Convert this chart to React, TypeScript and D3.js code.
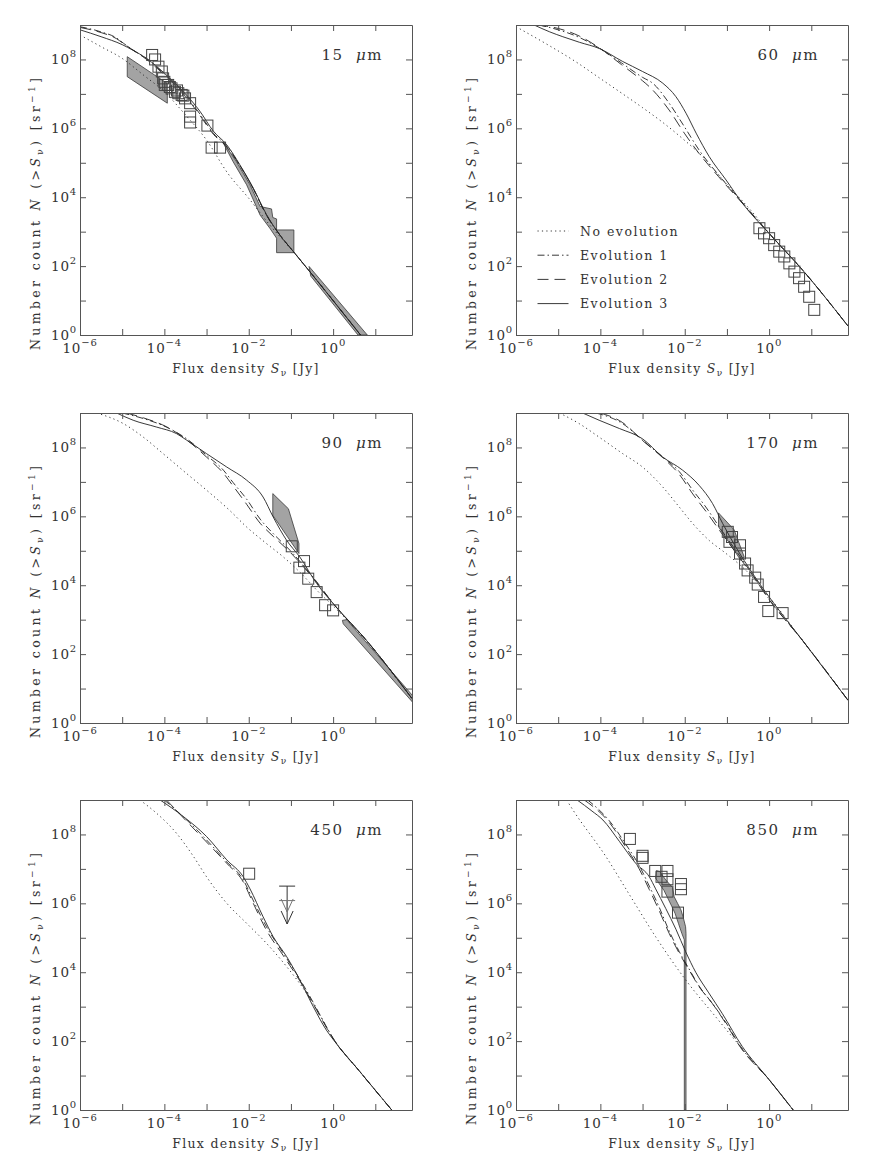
import React, { useEffect, useRef } from 'react'
import * as d3 from 'd3'

// every point is [log10 S_nu (Jy), log10 N(>S_nu) (sr^-1)]
type P = [number, number]

// ---------- 15 um
const noEvo15: P[] = [[-6, 8.71], [-5.5, 8.37], [-5, 8.03], [-4.5, 7.55], [-4, 7.06], [-3.5, 6.39], [-3, 5.66], [-2.5, 4.7], [-2, 3.97], [-1.5, 3.19], [-1, 2.5], [-0.5, 1.76], [0, 1.0], [0.65, 0]]
const evo1_15: P[] = [[-6, 8.95], [-5.5, 8.8], [-5.13, 8.62], [-4.97, 8.47], [-4.74, 8.27], [-4.42, 8.02], [-4, 7.58], [-3.5, 6.97], [-3.16, 6.42], [-2.84, 5.86], [-2.52, 5.48], [-2.21, 4.92], [-1.89, 4.24], [-1.58, 3.48], [-1.26, 2.9], [-0.94, 2.42], [-0.5, 1.76], [0, 1.0], [0.65, 0]]
const evo2_15: P[] = [[-6, 8.93], [-5.5, 8.78], [-5.13, 8.6], [-4.97, 8.46], [-4.74, 8.27], [-4.42, 8.0], [-4, 7.55], [-3.5, 6.93], [-3.16, 6.38], [-2.84, 5.83], [-2.52, 5.46], [-2.21, 4.92], [-1.89, 4.24], [-1.58, 3.48], [-1.26, 2.9], [-0.94, 2.42], [-0.5, 1.76], [0, 1.0], [0.65, 0]]
const evo3_15: P[] = [[-6, 8.86], [-5.5, 8.66], [-5, 8.43], [-4.75, 8.27], [-4.42, 8.03], [-4, 7.6], [-3.5, 7.0], [-3.16, 6.5], [-2.84, 5.92], [-2.52, 5.52], [-2.21, 4.94], [-1.89, 4.26], [-1.58, 3.5], [-1.26, 2.9], [-0.94, 2.42], [-0.5, 1.76], [0, 1.0], [0.65, 0]]
const sq15: P[] = [[-4.29, 8.13], [-4.22, 8.0], [-4.14, 7.79], [-4.06, 7.65], [-4.03, 7.45], [-4.0, 7.35], [-3.99, 7.26], [-3.91, 7.26], [-3.87, 7.2], [-3.83, 7.16], [-3.75, 7.06], [-3.7, 7.1], [-3.67, 7.02], [-3.59, 6.97], [-3.55, 6.95], [-3.51, 6.87], [-3.39, 6.73], [-3.39, 6.34], [-3.39, 6.17], [-2.98, 6.08], [-2.88, 5.44], [-2.68, 5.44]]
const shadeA15: P[] = [[-4.88, 8.08], [-3.93, 7.3], [-3.93, 6.73], [-4.88, 7.5]]
const shadeB15: P[] = [[-2.6, 5.59], [-2.29, 5.03], [-1.97, 4.36], [-1.73, 3.73], [-1.46, 3.66], [-1.43, 3.41], [-1.34, 3.37], [-1.34, 3.05], [-0.93, 3.05], [-0.93, 2.39], [-1.34, 2.39], [-1.34, 2.81], [-1.5, 3.1], [-1.73, 3.48], [-2.05, 4.36], [-2.37, 5.03], [-2.59, 5.54]]
const shadeC15: P[] = [[-0.57, 1.99], [0.81, 0], [0.59, 0], [-0.53, 1.71]]

// ---------- 60 um
const noEvo60: P[] = [[-6, 8.95], [-5.21, 8.4], [-4.58, 7.93], [-4.03, 7.47], [-3.47, 7.0], [-3.0, 6.6], [-2.52, 6.17], [-2.05, 5.7], [-1.58, 5.18], [-1.18, 4.62], [-0.79, 4.1], [-0.31, 3.44], [0, 2.95], [0.79, 1.89], [1.87, 0.26]]
const evo1_60: P[] = [[-5.45, 9.0], [-5.0, 8.86], [-4.5, 8.64], [-4.03, 8.33], [-3.5, 7.9], [-3.0, 7.48], [-2.76, 7.31], [-2.37, 6.73], [-2.01, 6.05], [-1.66, 5.37], [-1.2, 4.65], [-0.6, 3.8], [0, 2.95], [0.79, 1.89], [1.87, 0.26]]
const evo2_60: P[] = [[-5.5, 9.0], [-5.0, 8.9], [-4.5, 8.68], [-4.03, 8.34], [-3.5, 7.85], [-3.0, 7.38], [-2.84, 7.21], [-2.37, 6.53], [-2.01, 5.86], [-1.66, 5.27], [-1.2, 4.6], [-0.6, 3.78], [0, 2.95], [0.79, 1.89], [1.87, 0.26]]
const evo3_60: P[] = [[-5.57, 9.0], [-5.2, 8.8], [-4.89, 8.66], [-4.5, 8.5], [-4.03, 8.32], [-3.47, 7.94], [-3.0, 7.65], [-2.52, 7.31], [-2.21, 6.92], [-1.97, 6.44], [-1.73, 5.86], [-1.42, 5.18], [-1.02, 4.5], [-0.63, 3.82], [0, 2.95], [0.79, 1.89], [1.87, 0.26]]
const sq60: P[] = [[-0.23, 3.1], [-0.12, 2.95], [0.0, 2.81], [0.12, 2.61], [0.24, 2.42], [0.36, 2.28], [0.48, 2.08], [0.6, 1.84], [0.71, 1.65], [0.83, 1.4], [0.95, 1.11], [1.07, 0.73]]

// ---------- 90 um
const noEvo90: P[] = [[-5.6, 9.0], [-4.97, 8.69], [-4.5, 8.3], [-4.03, 7.82], [-3.47, 7.24], [-3.0, 6.76], [-2.45, 6.17], [-2.05, 5.69], [-1.58, 5.21], [-1.18, 4.82], [-0.79, 4.38], [-0.31, 3.76], [0, 3.4], [0.79, 2.38], [1.87, 0.71]]
const evo1_90: P[] = [[-5.0, 9.0], [-4.5, 8.84], [-3.95, 8.59], [-3.47, 8.25], [-3.0, 7.77], [-2.6, 7.34], [-2.37, 6.98], [-2.05, 6.5], [-1.73, 5.92], [-1.42, 5.5], [-1.02, 5.01], [-0.39, 4.1], [0, 3.47], [0.79, 2.4], [1.87, 0.71]]
const evo2_90: P[] = [[-4.9, 9.0], [-4.5, 8.86], [-3.95, 8.6], [-3.47, 8.22], [-3.0, 7.72], [-2.6, 7.25], [-2.37, 6.88], [-2.05, 6.35], [-1.73, 5.8], [-1.42, 5.42], [-1.02, 4.96], [-0.39, 4.08], [0, 3.47], [0.79, 2.4], [1.87, 0.71]]
const evo3_90: P[] = [[-5.13, 9.0], [-4.74, 8.79], [-4.18, 8.59], [-3.71, 8.4], [-3.47, 8.21], [-3.0, 7.82], [-2.52, 7.43], [-2.05, 7.05], [-1.66, 6.56], [-1.42, 5.98], [-1.1, 5.3], [-0.79, 4.82], [-0.39, 4.05], [0, 3.47], [0.79, 2.4], [1.87, 0.71]]
const sq90: P[] = [[-0.98, 5.13], [-0.69, 4.7], [-0.8, 4.51], [-0.59, 4.19], [-0.39, 3.8], [-0.19, 3.42], [0, 3.27]]
const shadeA90: P[] = [[-1.43, 6.66], [-1.06, 6.22], [-0.81, 5.21], [-0.81, 4.92], [-1.43, 6.03]]
const shadeB90: P[] = [[0.22, 2.98], [0.32, 3.0], [1.88, 0.8], [1.88, 0.61], [0.24, 2.88]]

// ---------- 170 um
const noEvo170: P[] = [[-4.97, 9.0], [-4.5, 8.69], [-4.03, 8.3], [-3.47, 7.82], [-3.0, 7.43], [-2.52, 6.85], [-2.13, 6.27], [-1.81, 5.79], [-1.42, 5.3], [-1.02, 4.92], [-0.55, 4.43], [0, 3.66], [0.79, 2.4], [1.87, 0.66]]
const evo1_170: P[] = [[-4.1, 9.0], [-3.47, 8.69], [-3.0, 8.21], [-2.52, 7.72], [-2.13, 7.3], [-1.81, 6.76], [-1.5, 6.27], [-1.18, 5.69], [-0.79, 5.01], [-0.39, 4.3], [0, 3.6], [0.79, 2.4], [1.87, 0.66]]
const evo2_170: P[] = [[-4.0, 9.0], [-3.47, 8.72], [-3.0, 8.2], [-2.52, 7.7], [-2.13, 7.22], [-1.81, 6.65], [-1.5, 6.15], [-1.18, 5.6], [-0.79, 4.95], [-0.39, 4.28], [0, 3.58], [0.79, 2.4], [1.87, 0.66]]
const evo3_170: P[] = [[-4.42, 9.0], [-4.03, 8.79], [-3.55, 8.55], [-3.0, 8.25], [-2.52, 7.72], [-2.05, 7.34], [-1.66, 6.9], [-1.34, 6.37], [-1.1, 5.79], [-0.79, 5.11], [-0.39, 4.34], [0, 3.66], [0.79, 2.4], [1.87, 0.66]]
const sq170: P[] = [[-0.98, 5.55], [-0.88, 5.4], [-0.94, 5.26], [-0.69, 5.16], [-0.69, 4.92], [-0.57, 4.63], [-0.51, 4.43], [-0.33, 4.22], [-0.27, 4.02], [-0.12, 3.66], [-0.02, 3.25], [0.32, 3.19]]
const shadeA170: P[] = [[-1.2, 6.1], [-0.83, 5.61], [-0.59, 4.82], [-0.67, 4.72], [-1.2, 5.7]]

// ---------- 450 um
const noEvo450: P[] = [[-4.58, 9.0], [-4.18, 8.61], [-3.71, 8.03], [-3.31, 7.36], [-3.0, 6.77], [-2.52, 6.0], [-2.05, 5.42], [-1.58, 4.84], [-1.1, 4.16], [-0.63, 3.39], [-0.31, 2.75], [0, 2.08], [0.63, 1.12], [1.39, 0]]
const evo1_450: P[] = [[-4.0, 9.0], [-3.47, 8.42], [-3.0, 7.84], [-2.52, 7.2], [-2.13, 6.68], [-1.9, 6.1], [-1.58, 5.32], [-1.18, 4.55], [-0.79, 3.8], [-0.47, 3.12], [-0.16, 2.42], [0, 2.08], [0.63, 1.12], [1.39, 0]]
const evo2_450: P[] = [[-3.95, 9.0], [-3.47, 8.38], [-3.0, 7.78], [-2.52, 7.16], [-2.13, 6.62], [-1.9, 6.02], [-1.58, 5.22], [-1.18, 4.48], [-0.79, 3.75], [-0.47, 3.08], [-0.16, 2.4], [0, 2.08], [0.63, 1.12], [1.39, 0]]
const evo3_450: P[] = [[-4.1, 9.0], [-3.55, 8.52], [-3.0, 7.94], [-2.52, 7.26], [-2.13, 6.77], [-1.97, 6.42], [-1.66, 5.61], [-1.42, 5.03], [-1.1, 4.45], [-0.79, 3.78], [-0.47, 3.0], [-0.16, 2.32], [0, 2.05], [0.63, 1.12], [1.39, 0]]
const sq450: P[] = [[-1.99, 6.86]]
// [log10 S, log10 N at the bar, log10 N at the arrow tip]
const limits450: [number, number, number][] = [[-1.09, 6.5, 5.4], [-1.09, 6.08, 5.75]]

// ---------- 850 um
const noEvo850: P[] = [[-4.8, 9.0], [-4.65, 8.71], [-3.87, 7.36], [-3.28, 6.19], [-2.69, 5.03], [-1.98, 3.78], [-1.27, 2.71], [-0.72, 1.9], [0, 0.88], [0.57, 0]]
const evo1_850: P[] = [[-4.3, 9.0], [-3.79, 8.4], [-3.39, 7.7], [-3.08, 7.1], [-2.84, 6.5], [-2.61, 5.9], [-2.37, 5.2], [-2.13, 4.6], [-1.9, 4.1], [-1.66, 3.6], [-1.35, 3.1], [-1.03, 2.55], [-0.68, 1.85], [0, 0.88], [0.57, 0]]
const evo2_850: P[] = [[-4.38, 9.0], [-3.79, 8.35], [-3.39, 7.62], [-3.08, 7.0], [-2.84, 6.4], [-2.61, 5.8], [-2.37, 5.13], [-2.13, 4.55], [-1.9, 4.07], [-1.66, 3.58], [-1.35, 3.1], [-1.03, 2.52], [-0.68, 1.82], [0, 0.88], [0.57, 0]]
const evo3_850: P[] = [[-4.55, 9.0], [-4.2, 8.68], [-3.94, 8.42], [-3.55, 7.8], [-3.16, 7.16], [-2.84, 6.77], [-2.69, 6.42], [-2.45, 5.85], [-2.21, 5.25], [-1.98, 4.6], [-1.74, 4.0], [-1.43, 3.4], [-1.11, 2.8], [-0.64, 1.85], [0, 0.88], [0.57, 0]]
const sq850: P[] = [[-3.3, 7.87], [-3.0, 7.38], [-3.0, 7.32], [-2.7, 6.94], [-2.41, 6.94], [-2.55, 6.77], [-2.41, 6.7], [-2.41, 6.34], [-2.09, 6.56], [-2.09, 6.41], [-2.16, 5.73]]
const shadeA850: P[] = [[-2.67, 6.95], [-2.59, 6.92], [-2.45, 6.68], [-2.29, 6.46], [-2.25, 6.19], [-2.17, 6.0], [-2.09, 5.81], [-2.04, 5.61], [-1.98, 5.32], [-1.97, 5.13], [-1.97, 0], [-2.01, 0], [-2.01, 4.94], [-2.07, 5.13], [-2.15, 5.42], [-2.23, 5.71], [-2.31, 5.92], [-2.39, 6.12], [-2.49, 6.37], [-2.61, 6.58], [-2.69, 6.73]]

const wavelengths = ['15', '60', '90', '170', '450', '850']
const legendLabels = ['No evolution', 'Evolution 1', 'Evolution 2', 'Evolution 3']
const xTickExps = [-6, -5, -4, -3, -2, -1, 0, 1]
const xLabelExps = [-6, -4, -2, 0]
const yTickExps = [0, 1, 2, 3, 4, 5, 6, 7, 8, 9]
const yLabelExps = [0, 2, 4, 6, 8]

const panels = [
    { curves: [noEvo15, evo1_15, evo2_15, evo3_15], squares: sq15, shades: [shadeA15, shadeB15, shadeC15], limits: [] as [number, number, number][] },
    { curves: [noEvo60, evo1_60, evo2_60, evo3_60], squares: sq60, shades: [], limits: [] },
    { curves: [noEvo90, evo1_90, evo2_90, evo3_90], squares: sq90, shades: [shadeA90, shadeB90], limits: [] },
    { curves: [noEvo170, evo1_170, evo2_170, evo3_170], squares: sq170, shades: [shadeA170], limits: [] },
    { curves: [noEvo450, evo1_450, evo2_450, evo3_450], squares: sq450, shades: [], limits: limits450 },
    { curves: [noEvo850, evo1_850, evo2_850, evo3_850], squares: sq850, shades: [shadeA850], limits: [] },
]

const W = 332
const H = 310
const colLeft = [80, 516]
const rowTop = [25, 413, 800]
const dashes = ['1.2,3.2', '7,3,1.5,3', '11,6', null]
const FONT = 'DejaVu Serif'
const INK = '#333'

export default function App() {
    const svgRef = useRef<SVGSVGElement>(null)

    useEffect(() => {
        if (!svgRef.current) return
        const svg = d3.select(svgRef.current)
        svg.selectAll('*').remove()

        const x = d3.scaleLog().domain([1e-6, 10 ** 1.87]).range([0, W])
        const y = d3.scaleLog().domain([1, 1e9]).range([H, 0])
        const px = (d: P) => x(10 ** d[0])
        const py = (d: P) => y(10 ** d[1])
        const curve = d3.line<P>().x(px).y(py).curve(d3.curveMonotoneX)
        const poly = d3.line<P>().x(px).y(py)

        panels.forEach((p, i) => {
            const g = svg
                .append('g')
                .attr('transform', `translate(${colLeft[i % 2]},${rowTop[Math.floor(i / 2)]})`)
                .style('font-family', FONT)
                .style('fill', INK)

            g.append('clipPath').attr('id', `clip${i}`).append('rect').attr('width', W).attr('height', H)
            const plot = g.append('g').attr('clip-path', `url(#clip${i})`)

            // shaded regions
            p.shades.forEach((s) => {
                plot.append('path')
                    .attr('d', poly(s) + 'Z')
                    .attr('fill', '#a3a3a3')
                    .attr('stroke', '#3a3a3a')
                    .attr('stroke-width', 0.8)
            })

            // model curves
            p.curves.forEach((c, k) => {
                plot.append('path')
                    .attr('d', curve(c))
                    .attr('fill', 'none')
                    .attr('stroke', '#222')
                    .attr('stroke-width', 0.9)
                    .attr('stroke-dasharray', dashes[k])
            })

            // observed counts
            plot.selectAll('.sq')
                .data(p.squares)
                .enter()
                .append('rect')
                .attr('x', (d) => px(d) - 5.5)
                .attr('y', (d) => py(d) - 5.5)
                .attr('width', 11)
                .attr('height', 11)
                .attr('fill', 'none')
                .attr('stroke', '#444')
                .attr('stroke-width', 1)

            // upper limits
            p.limits.forEach(([s, nb, nt], k) => {
                const cx = x(10 ** s)
                const yb = y(10 ** nb)
                const yt = y(10 ** nt)
                const col = k === 0 ? '#333' : '#777'
                plot.append('line').attr('x1', cx - 8).attr('x2', cx + 8).attr('y1', yb).attr('y2', yb).attr('stroke', col)
                plot.append('line').attr('x1', cx).attr('x2', cx).attr('y1', yb).attr('y2', yt).attr('stroke', col)
                plot.append('path')
                    .attr('d', `M${cx - 6},${yt - 13}L${cx},${yt}L${cx + 6},${yt - 13}`)
                    .attr('fill', 'none')
                    .attr('stroke', col)
            })

            // axes (ticks inward on all four sides)
            const xt = xTickExps.map((e) => 10 ** e)
            const yt = yTickExps.map((e) => 10 ** e)
            const styleAxis = (a: d3.Selection<SVGGElement, unknown, null, undefined>) => {
                a.selectAll('path').attr('stroke', '#555').attr('stroke-width', 1)
                a.selectAll('line').attr('stroke', '#555').attr('stroke-width', 1)
                a.selectAll('text').remove()
            }
            g.append('g').attr('transform', `translate(0,${H})`)
                .call(d3.axisBottom(x).tickValues(xt).tickSizeInner(-6).tickSizeOuter(0).tickFormat(() => ''))
                .call(styleAxis)
            g.append('g')
                .call(d3.axisTop(x).tickValues(xt).tickSizeInner(-6).tickSizeOuter(0).tickFormat(() => ''))
                .call(styleAxis)
            g.append('g')
                .call(d3.axisLeft(y).tickValues(yt).tickSizeInner(-6).tickSizeOuter(0).tickFormat(() => ''))
                .call(styleAxis)
            g.append('g').attr('transform', `translate(${W},0)`)
                .call(d3.axisRight(y).tickValues(yt).tickSizeInner(-6).tickSizeOuter(0).tickFormat(() => ''))
                .call(styleAxis)

            // tick labels
            xLabelExps.forEach((e) => {
                const t = g.append('text')
                    .attr('x', x(10 ** e))
                    .attr('y', H + 18)
                    .attr('text-anchor', 'middle')
                    .style('font-size', '13.5px')
                    .style('letter-spacing', '0.8px')
                t.append('tspan').text('10')
                t.append('tspan').attr('dy', -7).style('font-size', '10px').text(e < 0 ? `\u2212${-e}` : `${e}`)
            })
            yLabelExps.forEach((e) => {
                const t = g.append('text')
                    .attr('x', -3)
                    .attr('y', y(10 ** e) + 5)
                    .attr('text-anchor', 'end')
                    .style('font-size', '13.5px')
                    .style('letter-spacing', '0.8px')
                t.append('tspan').text('10')
                t.append('tspan').attr('dy', -7).style('font-size', '10px').text(`${e}`)
            })

            // axis titles
            const xl = g.append('text')
                .attr('x', W / 2)
                .attr('y', H + 38)
                .attr('text-anchor', 'middle')
                .style('font-size', '12.5px')
                .style('letter-spacing', '1.3px')
            xl.append('tspan').text('Flux density ')
            xl.append('tspan').style('font-style', 'italic').text('S')
            xl.append('tspan').attr('dy', 3).style('font-size', '9px').text('\u03bd')
            xl.append('tspan').attr('dy', -3).text(' [Jy]')

            const yl = g.append('text')
                .attr('transform', `translate(-40,${189}) rotate(-90)`)
                .attr('text-anchor', 'middle')
                .attr('textLength', 272)
                .attr('lengthAdjust', 'spacing')
                .style('font-size', '12.5px')
            yl.append('tspan').text('Number count ')
            yl.append('tspan').style('font-style', 'italic').text('N')
            yl.append('tspan').text(' (>')
            yl.append('tspan').style('font-style', 'italic').text('S')
            yl.append('tspan').attr('dy', 3).style('font-size', '9px').text('\u03bd')
            yl.append('tspan').attr('dy', -3).text(') [sr')
            yl.append('tspan').attr('dy', -5).style('font-size', '9px').text('\u22121')
            yl.append('tspan').attr('dy', 5).text(']')

            // wavelength label
            const wl = g.append('text')
                .attr('x', W - 29)
                .attr('y', 35)
                .attr('text-anchor', 'end')
                .style('font-size', '15px')
                .style('letter-spacing', '1.5px')
            wl.append('tspan').text(`${wavelengths[i]}\u00a0 `)
            wl.append('tspan').style('font-style', 'italic').text('\u03bc')
            wl.append('tspan').text('m')

            // legend in the 60 um panel
            if (i === 1) {
                legendLabels.forEach((lab, k) => {
                    const ly = 206 + k * 24.2
                    g.append('line')
                        .attr('x1', 21.5).attr('x2', 52.5)
                        .attr('y1', ly).attr('y2', ly)
                        .attr('stroke', '#222')
                        .attr('stroke-width', 0.9)
                        .attr('stroke-dasharray', dashes[k])
                    g.append('text')
                        .attr('x', 64)
                        .attr('y', ly + 4.5)
                        .style('font-size', '12.5px')
                        .style('letter-spacing', '1.5px')
                        .text(lab)
                })
            }
        })
    }, [])

    return (
        <div style={{ position: 'absolute', left: 0, top: 0 }}>
            <svg ref={svgRef} width={872} height={1162} style={{ display: 'block', background: '#fff' }} />
        </div>
    )
}
